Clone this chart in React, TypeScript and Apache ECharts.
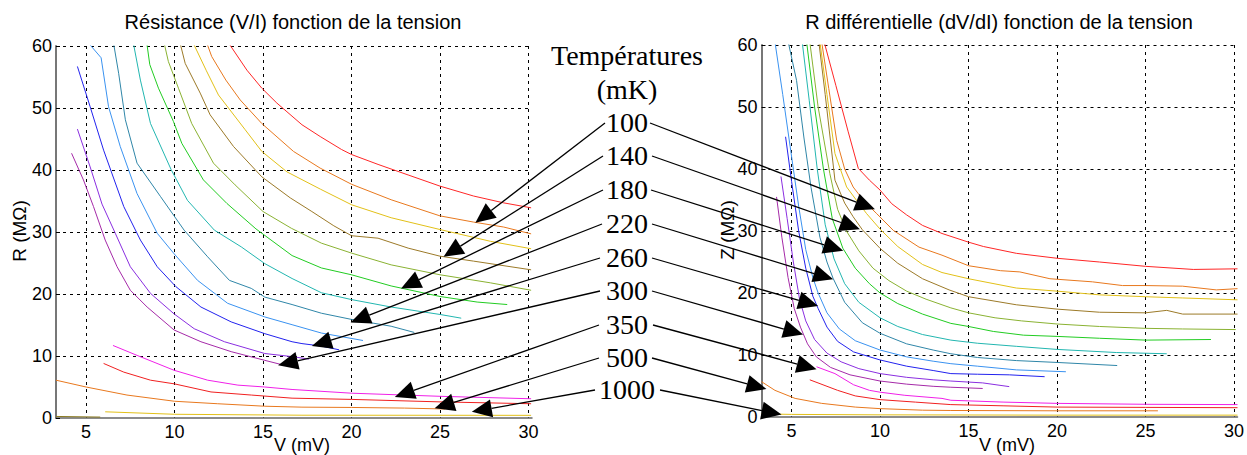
import React, { useEffect, useRef } from "react";
import * as echarts from "echarts";

// ---------- labels ----------
const leftTitle = "Résistance (V/I) fonction de la tension";
const rightTitle = "R différentielle (dV/dI) fonction de la tension";
const xName = "V (mV)";
const leftYName = "R (MΩ)";
const rightYName = "Z (MΩ)";
const legendTitle = ["Températures", "(mK)"];
const temperatures = ["100", "140", "180", "220", "260", "300", "350", "500", "1000"];

// ---------- left plot: R = V/I (MΩ) versus V (mV) ----------
const L_red = [[13.05,60.5],[14.09,56.1],[14.93,53.2],[15.78,50.8],[17.2,47.3],[18.23,45.4],[19.44,43.3],[20,42.5],[21.5,40.9],[23.2,39.2],[25,37.4],[26.9,35.8],[28.6,34.7],[30.15,33.9]];
const L_orange = [[11.82,60.5],[12.1,58.3],[12.9,54.5],[13.71,51.3],[14.93,47.5],[16.72,43.0],[18.23,40.3],[20,37.7],[22.24,35.2],[25,32.6],[26.9,31.6],[28.6,30.8],[30.15,29.7]];
const L_yellow = [[11.05,60.5],[11.8,56],[12.48,52.1],[13.99,46.5],[14.93,43.0],[16.35,39.7],[18.25,36.9],[20,34.4],[22.24,32.3],[25,30.4],[27.85,28.5],[30.15,27.3]];
const L_brown = [[10.31,60.5],[10.6,57.2],[11.45,52.4],[12.01,48.9],[13.33,43.8],[14.93,38.9],[16.54,35.5],[17.76,33.3],[19.0,31.0],[20,29.4],[21.5,29.0],[23.2,27.4],[25,26.1],[26.9,25.3],[30.15,23.9]];
const L_olive = [[9.41,60.5],[9.65,57.5],[10.22,53.2],[10.97,47.5],[12.2,41.1],[13.42,37.6],[15.0,33.3],[16.6,30.6],[18.3,28.2],[20,26.6],[22.24,24.7],[25,23.1],[27.85,21.8],[30.15,20.6]];
const L_green = [[8.43,60.5],[8.6,57],[9.09,53.2],[9.94,47.8],[10.41,44.3],[11.63,38.4],[12.96,34.6],[14.6,30.5],[16.64,26.2],[18.3,24.2],[20,23.1],[22.24,21.3],[25,19.6],[27.1,18.7],[28.8,18.3]];
const L_teal = [[7.67,60.5],[8.07,54.5],[8.64,47.5],[9.8,40.1],[10.73,35.1],[12.25,30.3],[13.77,27.6],[15.1,24.9],[16.64,22.5],[18.3,20.2],[20,19.1],[22.24,17.9],[25,16.7],[26.2,16.1]];
const L_steel = [[6.55,60.5],[6.84,55.6],[7.22,48.1],[7.88,41.1],[9.21,35.7],[10.54,30.3],[11.87,26.0],[13.1,22.2],[14.34,20.9],[15.1,19.5],[16.64,18.3],[18.3,16.9],[20,15.9],[22.24,14.8],[23.55,13.8]];
const L_dodger = [[5.13,60.5],[5.85,58.1],[6.27,50.2],[6.93,43.8],[7.88,36.2],[9.02,29.8],[9.97,26.5],[11.3,22.2],[13.0,18.5],[15.1,16.3],[16.64,15.05],[18.3,13.7],[20.65,12.5]];
const L_blue = [[4.51,56.7],[5.23,50.2],[5.99,43.2],[7.13,34.1],[8.07,28.7],[9.02,24.4],[10.07,21.2],[11.49,17.9],[13.2,15.5],[15.1,13.6],[16.64,12.3],[17.2,12.0],[18.3,11.6],[19.3,11.0]];
const L_violet = [[4.51,46.6],[5.23,40.5],[5.9,34.5],[6.65,29.8],[7.5,24.4],[8.64,20.1],[9.97,16.8],[11.11,14.4],[12.82,12.3],[15.1,10.4],[16.64,9.9],[17.6,9.5]];
const L_purple = [[4.18,42.7],[4.85,38.4],[5.42,34.1],[6.08,28.7],[6.75,24.4],[7.5,20.6],[8.45,17.9],[9.97,14.2],[11.49,12.3],[13.2,10.7],[15.1,9.3],[16.2,8.5]];
const L_magenta = [[6.52,11.7],[7.88,10.1],[9.97,7.7],[11.87,6.1],[13.58,5.3],[15.1,5.0],[16.64,4.6],[20,4.0],[25,3.5],[30.15,3.1]];
const L_red2 = [[5.99,8.8],[7.13,7.4],[8.64,6.1],[10,5.5],[12.06,4.2],[14.34,3.7],[16.64,3.2],[20,3.0],[25,2.6],[30.15,2.3]];
const L_orange2 = [[3.3,6.1],[5,5.0],[7.31,3.7],[10,2.7],[12.44,2.3],[15.1,1.9],[17.2,1.75],[20,1.7],[23,1.6],[25.3,1.45]];
const L_yellow2 = [[6.08,1.0],[10,0.6],[17.2,0.45],[30.15,0.43]];
const L_olive2 = [[3.3,0.25],[5.8,0.15]];

// ---------- right plot: Z = dV/dI (MΩ) versus V (mV) ----------
const R_red = [[6.84,60.5],[7.5,53.5],[8.2,46],[8.77,40.1],[9.4,38.2],[10,36.6],[10.66,34.4],[11.5,32.6],[12.4,30.9],[13.5,29.6],[15,28.2],[15.84,27.5],[17.7,26.4],[20,25.6],[22.4,25.0],[25,24.3],[27.7,23.8],[30.2,23.9]];
const R_orange = [[6.7,60.5],[7.1,53],[7.55,44.6],[8.0,40],[8.48,37.1],[9.1,34.8],[9.81,32.8],[10.75,30.1],[12.2,27.4],[13.5,26.1],[15,24.4],[16.8,23.6],[17.9,23.4],[19.6,22.3],[22,21.8],[23.7,21.2],[25,21.2],[27.1,21.1],[29,20.5],[30.2,20.7]];
const R_yellow = [[6.6,60.5],[7.0,52],[7.45,42.5],[8.11,37.1],[8.68,34.9],[9.24,32.8],[10,30.3],[11,27.5],[12.4,24.6],[13.5,23.3],[15,22.3],[17.7,20.8],[20,20.3],[22.4,19.7],[25,19.4],[27.1,19.2],[30.2,18.9]];
const R_brown = [[6.54,60.5],[6.9,52],[7.45,38.2],[8.0,34.5],[8.48,32.3],[9.0,30.2],[10,27.2],[11,24.8],[12.4,22.3],[13.9,20.5],[15,19.4],[17.7,18.1],[20,17.4],[22.4,16.9],[25,16.8],[26.2,17.2],[27.1,16.6],[30.2,16.6]];
const R_olive = [[6.03,60.5],[6.5,50],[7.16,39.3],[7.6,33.5],[8.1,30],[8.8,26.8],[9.6,24],[10.5,22],[11.5,20.3],[12.6,19],[14,17.6],[15,16.8],[16.5,16.0],[18,15.5],[20,15.0],[22.4,14.6],[25,14.3],[27.1,14.2],[30.1,14.1]];
const R_green = [[5.85,60.5],[6.3,50],[6.8,40],[7.3,32],[7.9,27.2],[8.6,24],[9.4,21.5],[10,20.0],[11,18.3],[12.4,16.6],[14,15.1],[15,14.6],[16.4,13.8],[18.1,13.2],[20,13.0],[22.4,12.7],[25,12.4],[28.7,12.5]];
const R_teal = [[5.6,60.5],[6.0,51],[6.45,40],[6.9,31],[7.4,25.5],[8.0,21.5],[8.8,18.5],[10,16.0],[11,14.6],[12.4,13.3],[14,12.4],[15.5,11.9],[17.7,11.4],[20,10.9],[23.35,10.4],[26.2,10.2]];
const R_steel = [[4.81,60.5],[5.28,54.3],[5.7,45],[6.1,37],[6.6,29],[7.0,25],[7.34,22.4],[8.0,18.5],[9.0,15.2],[10,13.5],[11.5,11.8],[13,10.8],[14,10.2],[15.5,9.6],[17.7,9.1],[20,8.8],[23.4,8.3]];
const R_dodger = [[4.06,60.5],[4.5,52],[4.95,43],[5.4,34],[5.8,27],[6.2,22.5],[6.5,20],[7.0,16.8],[7.7,14.2],[8.6,12.3],[10,10.8],[11.5,9.7],[13,9.0],[14,8.6],[15.5,8.2],[17.7,7.6],[20.5,7.3]];
const R_blue = [[4.66,45.2],[5.0,38],[5.4,30],[5.8,24],[6.2,19.5],[6.5,17.5],[7.0,14.5],[7.6,12.2],[8.5,10.5],[10,9.2],[11.5,8.2],[13,7.5],[14,7.0],[15.5,6.9],[17.3,6.8],[19.3,6.5]];
const R_violet = [[4.4,38.8],[4.75,32],[5.1,25],[5.45,19],[5.8,15.5],[6.3,12.5],[7.0,10.3],[7.8,8.9],[8.8,7.8],[10,7.0],[11.5,6.4],[13,6.0],[14,5.8],[15.8,5.5],[17.3,4.9]];
const R_purple = [[4.15,35.5],[4.45,29],[4.8,22.5],[5.15,17.5],[5.5,14.5],[5.9,11.8],[6.4,9.7],[7.2,8.0],[8.3,6.8],[10,5.8],[11.5,5.3],[13,4.95],[14,4.8],[15.8,4.6]];
const R_magenta = [[6.41,8.1],[7.45,7.0],[8.5,5.2],[9.4,4.3],[10,4.0],[11.4,3.5],[13.5,3.0],[14,2.7],[17,2.4],[20,2.2],[25,2.05],[30.2,2.0]];
const R_red2 = [[6.03,6.0],[7.6,4.3],[8.6,3.4],[10,2.8],[12,2.4],[14,2.0],[17,1.8],[20,1.6],[25,1.55],[30.2,1.5]];
const R_orange2 = [[3.3,5.7],[4.06,4.3],[5.2,3.0],[6.7,2.2],[8.6,1.6],[10,1.35],[12.4,1.1],[14,1.05],[20,1.0],[25.7,1.0]];
const R_yellow2 = [[3.3,0.5],[5,0.42],[10,0.35],[20,0.3],[30.2,0.3]];

// arrow targets (data coordinates) for each temperature label
const leftTargets = [[27.0,31.5],[25.2,26.0],[22.8,20.9],[19.95,15.4],[17.76,11.6],[15.85,8.5],[22.45,3.4],[24.7,1.56],[26.8,1.0]];
const rightTargets = [[9.71,33.5],[8.86,30.3],[7.92,26.8],[7.35,22.2],[6.5,17.9],[5.65,13.3],[6.41,7.7],[3.58,4.5],[4.43,0.4]];

const curveColors = ["#ff2626", "#e8781e", "#e2c018", "#9c7a28", "#8ab232", "#22cc22", "#22b6b0", "#2f86a8", "#3a92f0", "#2222ee", "#8a2ee0", "#a52aa8", "#f020e8", "#f02020", "#e8781e", "#e2c018", "#8a7a20"];
const leftCurves = [L_red, L_orange, L_yellow, L_brown, L_olive, L_green, L_teal, L_steel, L_dodger, L_blue, L_violet, L_purple, L_magenta, L_red2, L_orange2, L_yellow2, L_olive2];
const rightCurves = [R_red, R_orange, R_yellow, R_brown, R_olive, R_green, R_teal, R_steel, R_dodger, R_blue, R_violet, R_purple, R_magenta, R_red2, R_orange2, R_yellow2];

const SANS = '"Liberation Sans", Arial, sans-serif';
const SERIF = '"Liberation Serif", "Times New Roman", serif';

function xAxisCfg(gridIndex: number) {
  return {
    type: "value", gridIndex, min: 3.3, max: 30.2,
    axisLine: { show: true, onZero: false, lineStyle: { color: "#666", width: 1.5 } },
    axisTick: { show: false },
    axisLabel: {
      color: "#000", fontFamily: SANS, fontSize: 18, margin: 5,
      showMinLabel: false, showMaxLabel: false,
      formatter: (v: number) => (Math.abs(v / 5 - Math.round(v / 5)) < 1e-6 ? String(v) : ""),
    },
    splitLine: { show: true, showMinLine: false, showMaxLine: false, lineStyle: { color: "#000", type: [3, 4], width: 1 } },
  };
}
function yAxisCfg(gridIndex: number) {
  return {
    type: "value", gridIndex, min: 0, max: 60, interval: 10,
    axisLine: { show: true, onZero: false, lineStyle: { color: "#777", width: 2 } },
    axisTick: { show: true, inside: true, length: 4, lineStyle: { color: "#000" } },
    axisLabel: { color: "#000", fontFamily: SANS, fontSize: 18, margin: 4 },
    splitLine: { show: true, showMinLine: false, lineStyle: { color: "#000", type: [3, 4], width: 1 } },
  };
}

function arrow(sx: number, sy: number, tx: number, ty: number) {
  const dx = sx - tx, dy = sy - ty;
  const len = Math.sqrt(dx * dx + dy * dy);
  const ux = dx / len, uy = dy / len;
  const L = 20, W = 9;
  const bx = tx + ux * L, by = ty + uy * L;
  const px = -uy, py = ux;
  return [
    { type: "line", z: 100, shape: { x1: sx, y1: sy, x2: bx, y2: by }, style: { stroke: "#000", lineWidth: 1.3 } },
    { type: "polygon", z: 100, shape: { points: [[tx, ty], [bx + px * W, by + py * W], [bx - px * W, by - py * W]] }, style: { fill: "#000" } },
  ];
}

export default function App() {
  const ref = useRef<HTMLDivElement>(null);
  useEffect(() => {
    const chart = echarts.init(ref.current!, null, { renderer: "svg" });
    const series: any[] = [];
    leftCurves.forEach((d, i) => series.push({ type: "line", xAxisIndex: 0, yAxisIndex: 0, data: d, showSymbol: false, clip: true, lineStyle: { color: curveColors[i], width: 1 }, itemStyle: { color: curveColors[i] } }));
    rightCurves.forEach((d, i) => series.push({ type: "line", xAxisIndex: 1, yAxisIndex: 1, data: d, showSymbol: false, clip: true, lineStyle: { color: curveColors[i], width: 1 }, itemStyle: { color: curveColors[i] } }));
    chart.setOption({
      animation: false,
      backgroundColor: "#fff",
      grid: [
        { left: 56, top: 46, width: 476, height: 372 },
        { left: 761.5, top: 45, width: 477, height: 372 },
      ],
      xAxis: [xAxisCfg(0), xAxisCfg(1)],
      yAxis: [yAxisCfg(0), yAxisCfg(1)],
      series,
    });

    const labelY = [122, 155, 189, 223, 257, 290, 324, 357, 389];
    const leftStart = [605, 603, 603, 602, 600, 600, 599, 599, 595];
    const rightStart = [650, 652, 651, 652, 652, 652, 653, 652, 660];
    const g: any[] = [];
    const txt = (x: number, y: number, text: string, font: string, rot = 0) => ({
      type: "text", x, y, rotation: rot, z: 110,
      style: { text, font, fill: "#000", align: "center", verticalAlign: "middle", textAlign: "center", textVerticalAlign: "middle" },
    });
    g.push(txt(293, 22, leftTitle, `20px ${SANS}`));
    g.push(txt(999, 22, rightTitle, `20px ${SANS}`));
    g.push(txt(302, 445, xName, `18px ${SANS}`));
    g.push(txt(1007, 445, xName, `18px ${SANS}`));
    g.push(txt(19, 231, leftYName, `19px ${SANS}`, Math.PI / 2));
    g.push(txt(727, 230, rightYName, `19px ${SANS}`, Math.PI / 2));
    g.push(txt(627, 55, legendTitle[0], `28px ${SERIF}`));
    g.push(txt(627, 89, legendTitle[1], `28px ${SERIF}`));
    temperatures.forEach((t, i) => {
      g.push(txt(627, labelY[i], t, `28px ${SERIF}`));
      const lt = chart.convertToPixel({ gridIndex: 0 }, leftTargets[i]) as number[];
      const rt = chart.convertToPixel({ gridIndex: 1 }, rightTargets[i]) as number[];
      g.push(...arrow(leftStart[i], labelY[i] + 1, lt[0], lt[1]));
      g.push(...arrow(rightStart[i], labelY[i] + 1, rt[0], rt[1]));
    });
    chart.setOption({ graphic: g });
    return () => chart.dispose();
  }, []);
  return <div ref={ref} style={{ position: "absolute", left: 0, top: 0, width: 1247, height: 455 }} />;
}
